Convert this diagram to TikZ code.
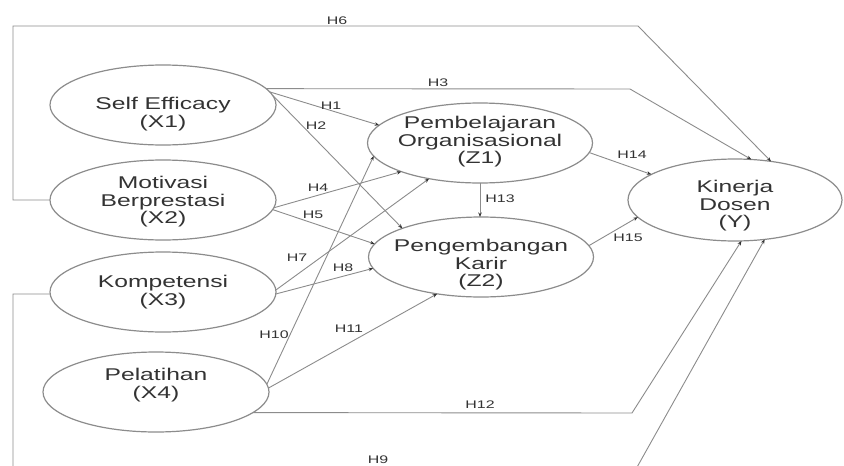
\documentclass[tikz,border=0pt]{standalone}
\usepackage{fontspec}
\setmainfont[FakeStretch=1.45]{Liberation Sans}
\usetikzlibrary{shapes.geometric,arrows.meta}
\definecolor{txt}{HTML}{333333}
\definecolor{ln}{HTML}{8C8C8C}
\begin{document}
\begin{tikzpicture}[x=1pt,y=-1pt,
  var/.style={ellipse,draw=ln,line width=1.2pt,inner sep=0pt,outer sep=0pt,
    minimum width=226pt,minimum height=80pt},
  vt/.style={align=center,text=txt,inner sep=0pt,
    font=\fontsize{17}{17.5}\selectfont},
  hyp/.style={draw=ln,line width=0.9pt,-{Stealth[length=4.5pt,width=3.5pt,color=txt]}},
  hl/.style={text=txt,font=\fontsize{11}{12}\selectfont,inner sep=0pt}]
\useasboundingbox (0,0) rectangle (844,466);
\clip (0,0) rectangle (844,466);
\fill[white] (0,0) rectangle (844,466);
% constructs
\node[var,label={[vt,yshift=-9pt]center:{Self Efficacy\\(X1)}}] (x1) at (163,105) {};
\node[var,label={[vt,yshift=-2pt]center:{Motivasi\\Berprestasi\\(X2)}}] (x2) at (163,200) {};
\node[var,label={[vt]center:{Kompetensi\\(X3)}}] (x3) at (163,292) {};
\node[var,label={[vt,yshift=7pt]center:{Pelatihan\\(X4)}}] (x4) at (156,392) {};
\node[var,minimum width=225pt,label={[vt,yshift=1pt]center:{Pembelajaran\\Organisasional\\(Z1)}}] (z1) at (480,143) {};
\node[var,minimum width=225pt,label={[vt,yshift=-8pt]center:{Pengembangan\\Karir\\(Z2)}}] (z2) at (481,257) {};
\node[var,minimum width=214pt,minimum height=82pt,label={[vt,yshift=-6pt]center:{Kinerja\\Dosen\\(Y)}}] (y) at (735,200) {};
% bend points
\coordinate (h6a) at (13,200);
\coordinate (h6b) at (13,26);
\coordinate (h6c) at (638,26);
\coordinate (h3a) at (630,89);
\coordinate (h12a) at (632,413);
\coordinate (h9a) at (13,294);
\coordinate (h9b) at (13,469);
\coordinate (h9c) at (636,469);
% paths
\draw[hyp] (x2.west) -- (h6a) -- (h6b) -- (h6c) -- (y.47);
\draw[hyp] (x1.9) -- (h3a) -- (y.68);
\draw[hyp] (x1.7) -- (z1.170);
\draw[hyp] (x1.5) -- (z2.160);
\draw[hyp] (x2.-4) -- (z1.200);
\draw[hyp] (x2.-5) -- (z2.173);
\draw[hyp] (x3.1) -- (z1.215);
\draw[hyp] (x3.-1) -- (z2.186);
\draw[hyp] (x4.4) -- (z1.187);
\draw[hyp] (x4.2) -- (z2.220);
\draw[hyp] (x4.-12) -- (h12a) -- (y.-81);
\draw[hyp] (x3.181) -- (h9a) -- (h9b) -- (h9c) -- (y.-53);
\draw[hyp] (z1.south) -- (z1.south |- z2.north);
\draw[hyp] (z1.-5) -- (y.163);
\draw[hyp] (z2.6) -- (y.190);
% labels
\node[hl] (l6) at (337,21) {H6};
\node[hl] (l3) at (438,83) {H3};
\node[hl] (l1) at (331,106) {H1};
\node[hl] (l2) at (316,126) {H2};
\node[hl] (l4) at (318,188) {H4};
\node[hl] (l5) at (313,215) {H5};
\node[hl] (l7) at (297,258) {H7};
\node[hl] (l8) at (343,268) {H8};
\node[hl] (l10) at (274,335) {H10};
\node[hl] (l11) at (349,329) {H11};
\node[hl] (l12) at (480,405) {H12};
\node[hl] (l9) at (378,460) {H9};
\node[hl] (l13) at (500,199) {H13};
\node[hl] (l14) at (632,155) {H14};
\node[hl] (l15) at (628,238) {H15};
\end{tikzpicture}
\end{document}
